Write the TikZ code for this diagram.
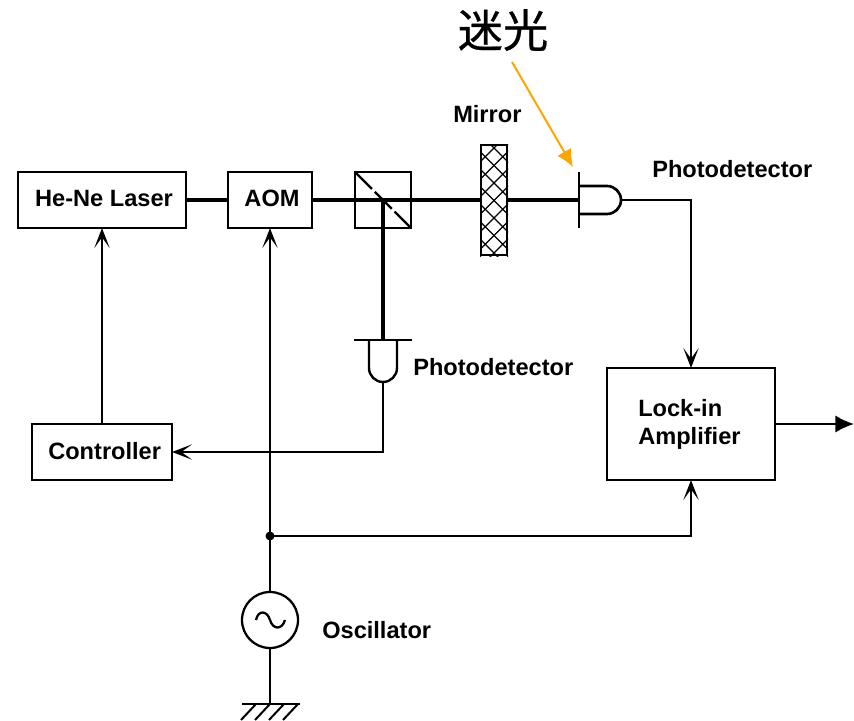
\documentclass[tikz,border=0pt]{standalone}
\usepackage{fontspec}
\setmainfont{Liberation Sans}
\newfontfamily\cjk[FakeBold=0.6]{Noto Sans CJK JP}
\usetikzlibrary{arrows.meta}
\definecolor{strayc}{RGB}{255,165,0}
\tikzset{
  box/.style={draw=black,line width=1.5pt,inner sep=0pt,outer sep=0pt,font=\fontsize{17.7}{21}\selectfont\bfseries,align=left},
  lab/.style={inner sep=0pt,font=\fontsize{17.7}{21}\selectfont\bfseries,anchor=west},
  beam/.style={line width=3pt},
  wire/.style={line width=1.5pt},
  sig/.style={wire,-{Stealth[length=15pt,width=11.5pt,inset=8pt]}},
}
\begin{document}
\begin{tikzpicture}[x=0.75pt,y=-0.75pt]
\useasboundingbox (0,0) rectangle (854,721);
% boxes
\node[box,minimum width=126pt,minimum height=42pt] (laser) at (102,200) {\hspace*{3pt}\raisebox{2.5pt}{He-Ne Laser}};
\node[box,minimum width=63pt,minimum height=42pt] (aom) at (270,200) {\hspace*{3pt}\raisebox{2.5pt}{AOM}};
\node[box,minimum width=42pt,minimum height=42pt] (cube) at (383,200) {};
\node[box,line width=2pt,minimum width=19.5pt,minimum height=82.5pt] (mirror) at (494,200) {};
\node[box,minimum width=105pt,minimum height=42pt] (ctrl) at (102,452) {\hspace*{4pt}\raisebox{2.3pt}{Controller}};
\node[box,minimum width=126pt,minimum height=84pt] (lock) at (691,424) {};
\node[lab] at (638,424.5) {\begin{tabular}{@{}l@{}}Lock-in\\Amplifier\end{tabular}};
% cube splitter
\draw[line width=1.7pt,dash pattern=on 18pt off 3pt] (cube.north west) -- (cube.south east);
% mirror hatch
\begin{scope}
\clip (480,144) rectangle (508,256);
\foreach \k in {-3,...,9}{
  \draw[line width=0.9pt] (466,120+\k*17.5) -- ++(56,56);
  \draw[line width=0.9pt] (522,120+\k*17.5) -- ++(-56,56);
}
\end{scope}
\draw[line width=2pt] (mirror.north west) rectangle (mirror.south east);
% top detector
\coordinate (pd1) at (579,200);
\coordinate (pd1out) at (621,200);
\draw[line width=2pt] (579,172) -- (579,228);
\draw[line width=2pt] (579,186) -- (607,186) arc[start angle=-90,end angle=90,radius=14] -- (579,214);
% lower detector
\coordinate (pd2) at (383,340);
\coordinate (pd2out) at (383,382);
\draw[line width=1.8pt] (354,340) -- (412,340);
\draw[line width=1.8pt] (369,340) -- (369,368) arc[start angle=180,end angle=0,radius=14] -- (397,340);
% beams
\draw[beam] (laser.east) -- (aom.west);
\draw[beam] (aom.east) -- (mirror.west);
\draw[beam] (mirror.east) -- (pd1);
\draw[beam] (cube.center) -- (pd2);
% signals
\draw[sig] (pd1out) -| (lock.north);
\draw[sig] (pd2out) |- (ctrl.east);
\draw[sig] (ctrl.north) -- (laser.south);
% oscillator
\node[draw=black,line width=1.7pt,circle,minimum size=42pt,inner sep=0pt] (osc) at (270,620) {};
\coordinate (junc) at (270,536);
\coordinate (gnd) at (270,704);
\draw[sig] (osc.north) -- (aom.south);
\draw[sig] (junc) -| (lock.south);
\fill (junc) circle[radius=4.5];
\draw[wire] (osc.south) -- (gnd);
\draw[line width=1.7pt] (256,620) .. controls (258,610) and (267,610) .. (270,620) .. controls (273,630) and (282,630) .. (285,620);
% ground
\draw[wire] (242,704) -- (300,704);
\foreach \x in {256,270,284,298}{\draw[wire] (\x,704) -- (\x-15,720);}
% output
\coordinate (outp) at (854,424);
\draw[wire,-{Latex[length=14pt,width=13pt]}] (lock.east|-outp) -- (outp);
% labels
\node[lab] at (453,114) {Mirror};
\node[lab] at (652,169) {Photodetector};
\node[lab] at (413,367) {Photodetector};
\node[lab] at (322,630) {Oscillator};
\node[inner sep=0pt,font=\cjk\fontsize{34}{40}\selectfont] (stray) at (503,30) {迷光};
\coordinate (straytip) at (573,167);
\coordinate (straytail) at (512,62);
\draw[strayc,line width=1.5pt,-{Latex[length=13pt,width=12pt]}] (straytail) -- (straytip);
\end{tikzpicture}
\end{document}
